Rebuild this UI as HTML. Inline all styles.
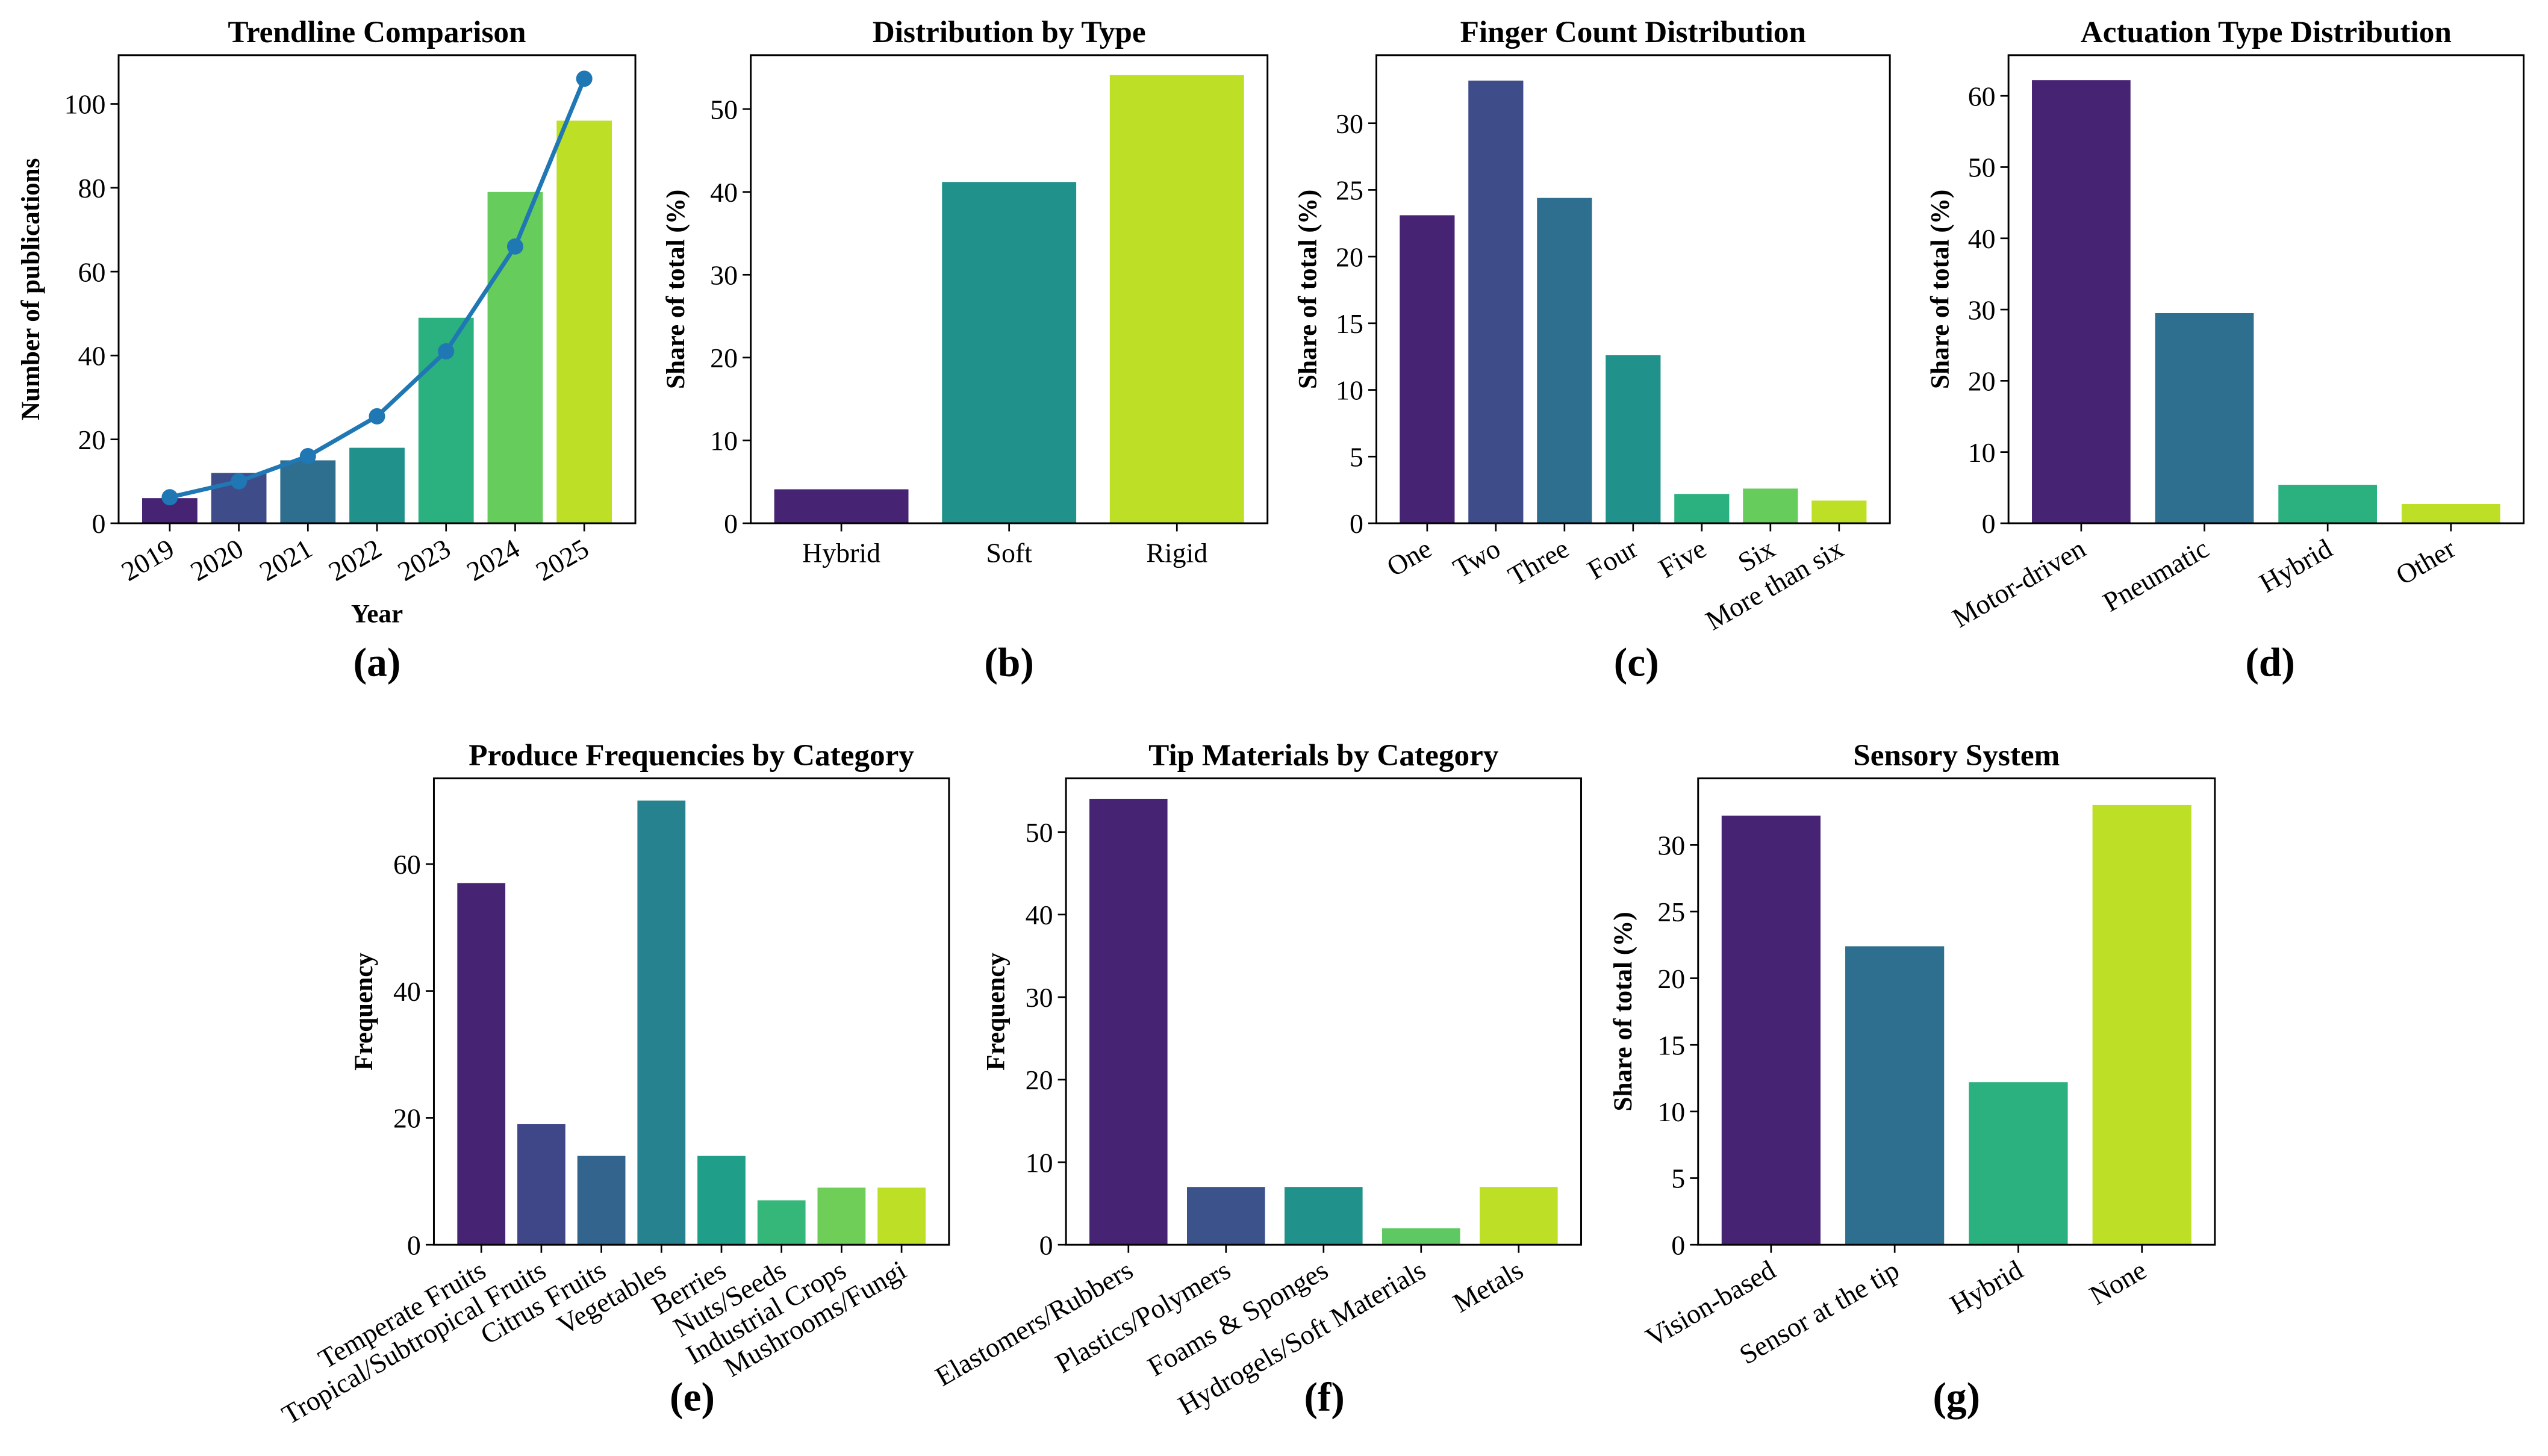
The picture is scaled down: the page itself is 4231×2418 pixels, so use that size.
<!DOCTYPE html>
<html><head><meta charset="utf-8"><style>
html,body{margin:0;padding:0;background:#fff;}
svg{display:block;font-family:"Liberation Serif",serif;}
</style></head><body>
<svg id="fig" width="4231" height="2418" viewBox="0 0 1568 896" preserveAspectRatio="none" xmlns="http://www.w3.org/2000/svg"></svg>
<script>
// ---- data ----
const aCats = ['2019','2020','2021','2022','2023','2024','2025'];
const aBars = [6,12,15,18,49,79,96];
const aLine = [6.2,10,16,25.5,41,66,106];
const aTicks = [0,20,40,60,80,100];
const bCats = ['Hybrid','Soft','Rigid'];
const bVals = [4.1,41.2,54.1];
const bTicks = [0,10,20,30,40,50];
const cCats = ['One','Two','Three','Four','Five','Six','More than six'];
const cVals = [23.1,33.2,24.4,12.6,2.2,2.6,1.7];
const cTicks = [0,5,10,15,20,25,30];
const dCats = ['Motor-driven','Pneumatic','Hybrid','Other'];
const dVals = [62.2,29.5,5.4,2.7];
const dTicks = [0,10,20,30,40,50,60];
const eCats = ['Temperate Fruits','Tropical/Subtropical Fruits','Citrus Fruits','Vegetables','Berries','Nuts/Seeds','Industrial Crops','Mushrooms/Fungi'];
const eVals = [57,19,14,70,14,7,9,9];
const eTicks = [0,20,40,60];
const fCats = ['Elastomers/Rubbers','Plastics/Polymers','Foams & Sponges','Hydrogels/Soft Materials','Metals'];
const fVals = [54,7,7,2,7];
const fTicks = [0,10,20,30,40,50];
const gCats = ['Vision-based','Sensor at the tip','Hybrid','None'];
const gVals = [32.2,22.4,12.2,33.0];
const gTicks = [0,5,10,15,20,25,30];

const NS='http://www.w3.org/2000/svg';
const svg=document.getElementById('fig');
function mk(tag,attrs,parent,txt){const e=document.createElementNS(NS,tag);for(const k in attrs)e.setAttribute(k,attrs[k]);if(txt!==undefined)e.textContent=txt;(parent||svg).appendChild(e);return e;}

function panel(o){
  const g=mk('g',{});
  
  
  const n=o.cats.length;
  const span=n-0.2;
  const xs=(o.R-o.L)/(span*1.1);
  const x=i=>o.L+xs*(0.4+0.05*span+i);
  const y=v=>o.B-(v/o.ymax)*(o.B-o.T);
  o.vals.forEach((v,i)=>{
    const r=mk('rect',{x:x(i)-0.4*xs,y:y(v),width:0.8*xs,height:o.B-y(v),fill:o.colors[i]},g);
    
    
  });
  if(o.line){
    const pts=o.line.map((v,i)=>x(i)+','+y(v)).join(' ');
    const pl=mk('polyline',{points:pts,fill:'none',stroke:'#1f77b4','stroke-width':2.6},g);
    
    
    o.line.forEach((v,i)=>{
      const c=mk('circle',{cx:x(i),cy:y(v),r:5,fill:'#1f77b4'},g);
      
      
    });
  }
  mk('rect',{x:o.L,y:o.T,width:o.R-o.L,height:o.B-o.T,fill:'none',stroke:'#000','stroke-width':1.1},g);
  o.ticks.forEach(t=>{
    mk('line',{x1:o.L-5,x2:o.L,y1:y(t),y2:y(t),stroke:'#000','stroke-width':1},g);
    const tl=mk('text',{x:o.L-8,y:y(t)+6,'text-anchor':'end','font-size':17},g,String(t));
    
    
  });
  o.cats.forEach((c,i)=>{
    mk('line',{x1:x(i),x2:x(i),y1:o.B,y2:o.B+5,stroke:'#000','stroke-width':1},g);
    let t;
    if(o.rot){
      const ax=x(i)+4, ay=o.B+19;
      t=mk('text',{x:ax,y:ay,'text-anchor':'end','font-size':17,transform:`rotate(-30 ${ax} ${ay})`},g,c);
    } else {
      t=mk('text',{x:x(i),y:o.B+24,'text-anchor':'middle','font-size':17},g,c);
    }
    
    
  });
  const tt=mk('text',{x:(o.L+o.R)/2,y:o.T-8,'text-anchor':'middle','font-size':19,'font-weight':'bold'},g,o.title);
  
  
  const yl=mk('text',{x:0,y:0,'text-anchor':'middle','font-size':16,'font-weight':'bold',transform:`translate(${o.ylx} ${(o.T+o.B)/2}) rotate(-90)`},g,o.ylabel);
  
  
  if(o.xlabel){
    const xl=mk('text',{x:(o.L+o.R)/2,y:o.B+61,'text-anchor':'middle','font-size':16,'font-weight':'bold'},g,o.xlabel);
    
    
  }
  const pl=mk('text',{x:o.labx,y:o.laby,'text-anchor':'middle','font-size':25,'font-weight':'bold'},g,o.panel);
  
  
}
const V7=['#472374','#3e4c8a','#2e6e8e','#21918c','#2bb07f','#66cc5c','#bddf26'];
panel({name:'chart-a',cats:aCats,vals:aBars,line:aLine,ticks:aTicks,ymax:111.6,L:73,R:391,T:34,B:322,colors:V7,rot:true,title:'Trendline Comparison',ylabel:'Number of publications',ylx:24,xlabel:'Year',panel:'(a)',labx:232,laby:416});
panel({name:'chart-b',cats:bCats,vals:bVals,ticks:bTicks,ymax:56.5,L:462,R:780,T:34,B:322,colors:['#472374','#21918c','#bddf26'],rot:false,title:'Distribution by Type',ylabel:'Share of total (%)',ylx:421,panel:'(b)',labx:621,laby:416});
panel({name:'chart-c',cats:cCats,vals:cVals,ticks:cTicks,ymax:35.1,L:847,R:1163,T:34,B:322,colors:V7,rot:true,title:'Finger Count Distribution',ylabel:'Share of total (%)',ylx:810,panel:'(c)',labx:1007,laby:416});
panel({name:'chart-d',cats:dCats,vals:dVals,ticks:dTicks,ymax:65.7,L:1236,R:1553,T:34,B:322,colors:['#472374','#2e6e8e','#2bb07f','#bddf26'],rot:true,title:'Actuation Type Distribution',ylabel:'Share of total (%)',ylx:1199,panel:'(d)',labx:1397,laby:416});
panel({name:'chart-e',cats:eCats,vals:eVals,ticks:eTicks,ymax:73.5,L:267,R:584,T:479,B:766,colors:['#472374','#3f4788','#32648e','#26828e','#1f9e89','#35b779','#6ece58','#bddf26'],rot:true,title:'Produce Frequencies by Category',ylabel:'Frequency',ylx:229,panel:'(e)',labx:426,laby:868});
panel({name:'chart-f',cats:fCats,vals:fVals,ticks:fTicks,ymax:56.5,L:656,R:973,T:479,B:766,colors:['#472374','#3b528b','#21918c','#5ec962','#bddf26'],rot:true,title:'Tip Materials by Category',ylabel:'Frequency',ylx:618,panel:'(f)',labx:815,laby:868});
panel({name:'chart-g',cats:gCats,vals:gVals,ticks:gTicks,ymax:35.0,L:1045,R:1363,T:479,B:766,colors:['#472374','#2e6e8e','#2bb07f','#bddf26'],rot:true,title:'Sensory System',ylabel:'Share of total (%)',ylx:1004,panel:'(g)',labx:1204,laby:868});
</script>
</body></html>
